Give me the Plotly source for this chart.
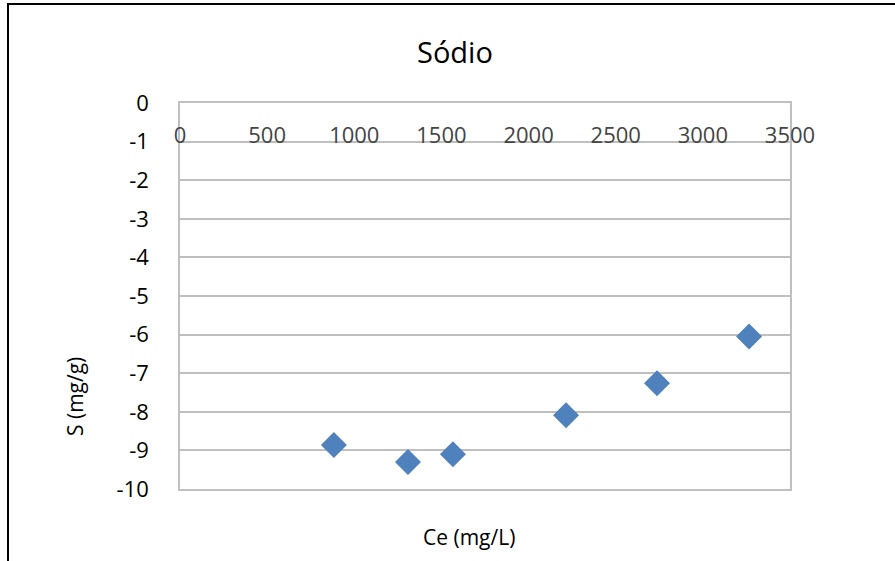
import plotly.graph_objects as go

# Sodium sorption data
ce_mg_l = [883, 1308, 1566, 2215, 2737, 3265]
s_mg_g = [-8.86, -9.30, -9.10, -8.09, -7.26, -6.05]

# Axis ticks (hyphen-minus labels, as in spreadsheet output)
x_ticks = [0, 500, 1000, 1500, 2000, 2500, 3000, 3500]
y_ticks = [0, -1, -2, -3, -4, -5, -6, -7, -8, -9, -10]
y_tick_labels = ["0", "-1", "-2", "-3", "-4", "-5", "-6", "-7", "-8", "-9", "-10"]

W, H = 895, 561
L, R, T, B = 180, 105, 103, 72

FONT = "Open Sans"
GRID = "#BFBFBF"

fig = go.Figure()
fig.add_trace(go.Scatter(
    x=ce_mg_l, y=s_mg_g, mode="markers",
    marker=dict(symbol="diamond", size=20, color="#4F81BD",
                line=dict(width=0)),
    showlegend=False,
))

fig.update_layout(
    width=W, height=H,
    margin=dict(l=L, r=R, t=T, b=B),
    paper_bgcolor="white", plot_bgcolor="white",
    font=dict(family=FONT, size=22, color="black"),
    xaxis=dict(
        range=[0, 3500], tickvals=x_ticks, side="top",
        ticklabelposition="inside", ticklabelstandoff=26,
        ticklabeloverflow="allow",
        showgrid=False, zeroline=False,
        showline=True, linecolor=GRID, linewidth=1.5, mirror=True,
        ticks="", tickfont=dict(size=22),
    ),
    yaxis=dict(
        range=[-10, 0], tickvals=y_ticks, ticktext=y_tick_labels,
        showgrid=True, gridcolor=GRID, gridwidth=1.5,
        zeroline=False,
        showline=True, linecolor=GRID, linewidth=1.5, mirror=True,
        ticks="", ticklabelstandoff=25, tickfont=dict(size=22),
    ),
    shapes=[dict(type="rect", xref="paper", yref="paper",
                 x0=-(L - 8) / (W - L - R), x1=1.5,
                 y0=-1, y1=1 + (T - 4) / (H - T - B),
                 line=dict(color="black", width=2), fillcolor="rgba(0,0,0,0)",
                 layer="below")],
    annotations=[
        dict(text="Sódio", xref="paper", yref="paper",
             x=(455 - L) / (W - L - R), y=1 + (T - 52) / (H - T - B),
             showarrow=False, font=dict(size=29), xanchor="center", yanchor="middle"),
        dict(text="Ce (mg/L)", xref="paper", yref="paper",
             x=(469 - L) / (W - L - R), y=-(537 - (H - B)) / (H - T - B),
             showarrow=False, font=dict(size=21), xanchor="center", yanchor="middle"),
        dict(text="S (mg/g)", xref="paper", yref="paper", textangle=-90,
             x=-(L - 75) / (W - L - R), y=1 - (397 - T) / (H - T - B),
             showarrow=False, font=dict(size=21), xanchor="center", yanchor="middle"),
    ],
)

fig.write_html("out.html")
